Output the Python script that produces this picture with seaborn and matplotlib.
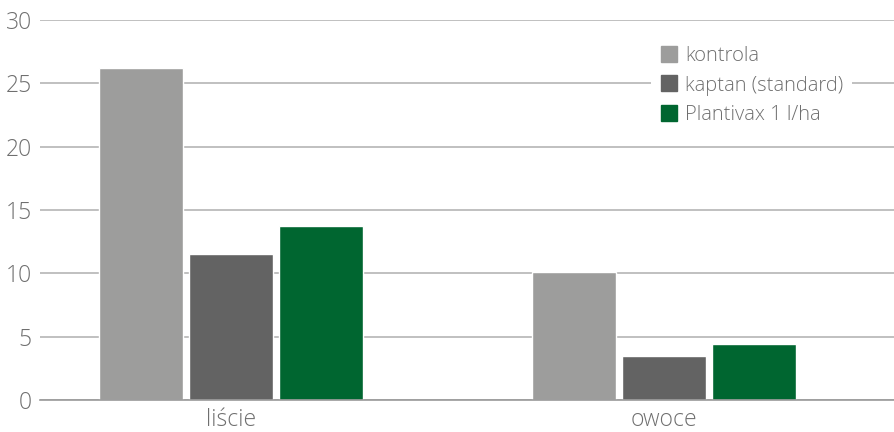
import numpy as np
import pandas as pd
import matplotlib
matplotlib.use("Agg")
import matplotlib.pyplot as plt
import seaborn as sns
from matplotlib.lines import Line2D

sns.set_theme(style="white")
plt.rcParams['font.family'] = ['Open Sans', 'DejaVu Sans']
plt.rcParams['font.weight'] = 'light'

# data
categories = ['liście', 'owoce']
series = ['kontrola', 'kaptan (standard)', 'Plantivax 1 l/ha']
kontrola = [26.2, 10.1]
kaptan = [11.5, 3.5]
plantivax = [13.7, 4.4]
colors = ['#9d9d9c', '#636363', '#006630']

rows = []
for name, vals in zip(series, [kontrola, kaptan, plantivax]):
    for cat, v in zip(categories, vals):
        rows.append({'kategoria': cat, 'seria': name, 'wartosc': v})
df = pd.DataFrame(rows)

fig = plt.figure(figsize=(8.95, 4.32), dpi=100)
ax = fig.add_axes([40/895, 1-400/432, 1-40/895, 380/432])

sns.barplot(data=df, x='kategoria', y='wartosc', hue='seria', order=categories,
            hue_order=series, palette=colors, width=0.624, gap=0.067,
            saturation=1, ax=ax, legend=False)

ax.set_ylim(0, 30)
ax.set_xlim(-0.441, 1.533)
ax.set_yticks(range(0, 31, 5))
ax.set_axisbelow(True)
ax.yaxis.grid(True, color='#b5b5b5', linewidth=1.2)
ax.xaxis.grid(False)
for s in ['top', 'right', 'left']:
    ax.spines[s].set_visible(False)
ax.spines['bottom'].set_color('#9a9a9a')
ax.spines['bottom'].set_linewidth(1.2)
ax.tick_params(axis='both', length=0, labelsize=16.5, colors='#6f6f6f', pad=6)
ax.tick_params(axis='x', pad=6)
ax.set_xlabel('')
ax.set_ylabel('')

handles = [Line2D([0], [0], marker='s', linestyle='none', markersize=11,
                  markerfacecolor=c, markeredgecolor=c) for c in colors]
leg = ax.legend(handles, series, loc='upper left', bbox_to_anchor=(0.703, 0.978),
                frameon=True, facecolor='white', edgecolor='none', framealpha=1,
                fontsize=14.5, labelcolor='#6f6f6f', handletextpad=0.3,
                labelspacing=0.45, borderpad=0.4, handlelength=1.0)

fig.savefig('out.png', dpi=100)
